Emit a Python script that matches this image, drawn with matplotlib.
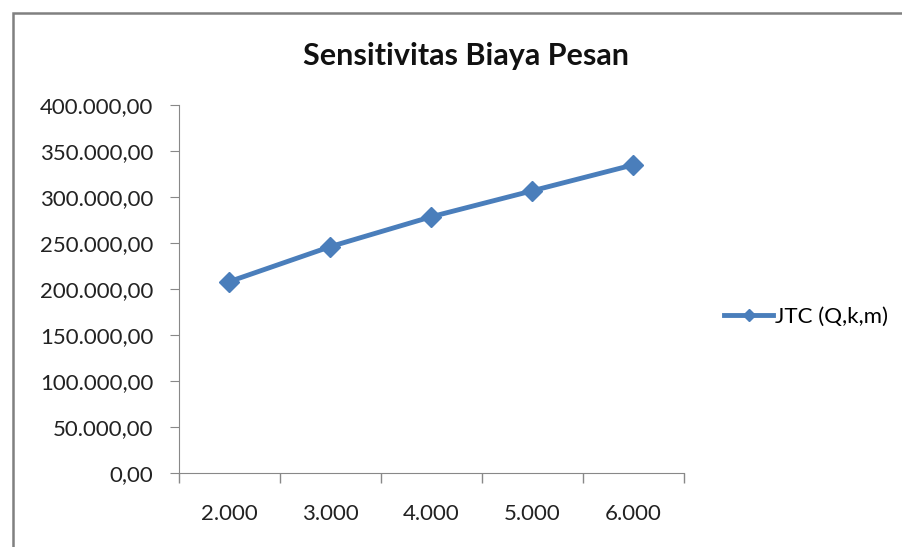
import matplotlib.pyplot as plt
import matplotlib.patches as patches
from matplotlib.ticker import FuncFormatter

# data
categories = ['2.000', '3.000', '4.000', '5.000', '6.000']
jtc = [208100, 246100, 278600, 306800, 335000]

plt.rcParams['font.family'] = ['Lato', 'DejaVu Sans']

fig = plt.figure(figsize=(9.03, 5.47), dpi=100)
ax = fig.add_axes([179/903, 1-473/547, (684-179)/903, (473-105)/547])

x = range(len(categories))
ax.plot(x, jtc, color='#4a7ebb', lw=3.5, marker='D', markersize=10.5,
        label='JTC (Q,k,m)')

ax.set_xlim(-0.5, len(categories) - 0.5)
ax.set_ylim(0, 400000)
ax.set_yticks(range(0, 400001, 50000))
# indonesian number format: 400.000,00
ax.yaxis.set_major_formatter(FuncFormatter(
    lambda v, p: '{:,.2f}'.format(v).replace(',', 'X').replace('.', ',').replace('X', '.')))
ax.set_xticks(list(x))
ax.set_xticklabels(categories)
ax.set_xticks([i - 0.5 for i in range(len(categories) + 1)], minor=True)
ax.tick_params(axis='x', which='major', length=0, pad=22, labelsize=16, labelcolor='#222222')
ax.tick_params(axis='x', which='minor', length=7, color='#888888', width=1)
ax.tick_params(axis='y', length=6.5, color='#888888', labelsize=16, pad=12, labelcolor='#222222')

for s in ['top', 'right']:
    ax.spines[s].set_visible(False)
for s in ['left', 'bottom']:
    ax.spines[s].set_color('#888888')

fig.text(466/903, 1-65/547, 'Sensitivitas Biaya Pesan', fontsize=22,
         fontweight='bold', ha='center', va='baseline', color='#111111')

ax.legend(loc='center left', bbox_to_anchor=(1.04, 0.425), frameon=False,
          fontsize=16, handlelength=2.2, handletextpad=0.1, markerscale=0.6)

# outer chart border
fig.add_artist(patches.Rectangle((13/903, -0.1), 1.2, 1.1 - 13/547,
                                 transform=fig.transFigure, fill=False,
                                 edgecolor='#808080', lw=1.8))

fig.savefig('out.png', dpi=100)
